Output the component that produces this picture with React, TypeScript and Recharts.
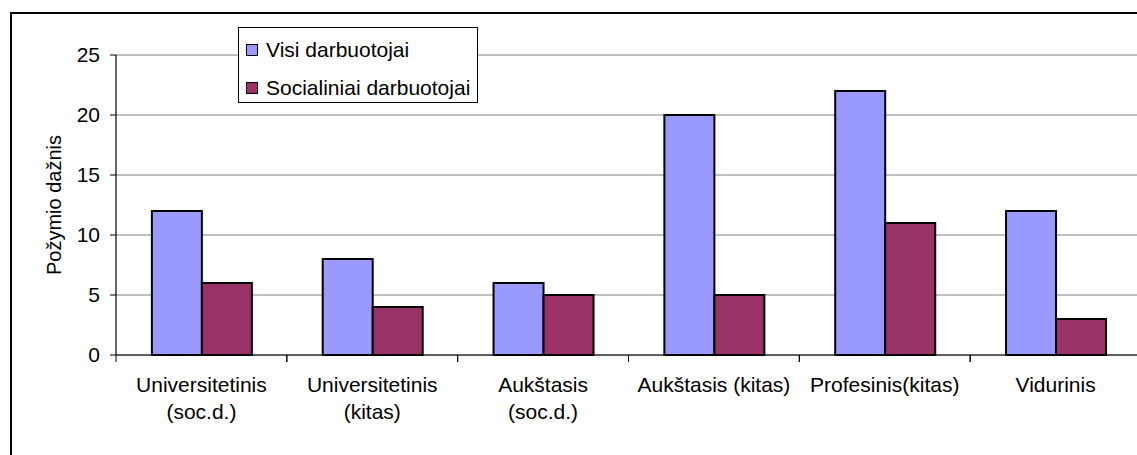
import React from "react";
import { BarChart, Bar, XAxis, YAxis, CartesianGrid } from "recharts";

const categories = [
  "Universitetinis\n(soc.d.)",
  "Universitetinis\n(kitas)",
  "Aukštasis\n(soc.d.)",
  "Aukštasis (kitas)",
  "Profesinis(kitas)",
  "Vidurinis",
];
const visi = [12, 8, 6, 20, 22, 12];
const socialiniai = [6, 4, 5, 5, 11, 3];
const yTicks = [0, 5, 10, 15, 20, 25];
const seriesNames = ["Visi darbuotojai", "Socialiniai darbuotojai"];
const colors = ["#9999FF", "#993366"];

const data = categories.map((name, i) => ({
  name,
  visi: visi[i],
  soc: socialiniai[i],
}));

const font = "'Liberation Sans', Arial, sans-serif";

function CategoryTick(props: any) {
  const { x, y, payload, width, visibleTicksCount } = props;
  const half = width / visibleTicksCount / 2;
  const lines = String(payload.value).split("\n");
  return (
    <g>
      <line x1={x - half} x2={x - half} y1={y} y2={y + 7} stroke="#000" strokeWidth={1} />
      <line x1={x + half} x2={x + half} y1={y} y2={y + 7} stroke="#000" strokeWidth={1} />
      {lines.map((l, i) => (
        <text
          key={i}
          x={x}
          y={y + 37 + i * 27}
          textAnchor="middle"
          fontSize={21}
          fontFamily={font}
          fill="#000"
        >
          {l}
        </text>
      ))}
    </g>
  );
}

function LegendBox() {
  return (
    <div
      style={{
        position: "absolute",
        left: 238,
        top: 27,
        width: 240,
        height: 76,
        boxSizing: "border-box",
        border: "1px solid #000",
        background: "#fff",
        fontFamily: font,
        fontSize: 21,
        color: "#000",
        paddingTop: 4,
      }}
    >
      {seriesNames.map((n, i) => (
        <div key={n} style={{ display: "flex", alignItems: "center", height: 32, marginTop: i === 0 ? 2 : 6 }}>
          <span
            style={{
              display: "inline-block",
              width: 10,
              height: 10,
              background: colors[i],
              border: "1.5px solid #000",
              marginLeft: 7,
              marginRight: 8,
            }}
          />
          <span>{n}</span>
        </div>
      ))}
    </div>
  );
}

export default function App() {
  return (
    <div
      style={{
        position: "absolute",
        left: 0,
        top: 0,
        width: 1137,
        height: 455,
        overflow: "hidden",
        background: "#fff",
      }}
    >
      <div style={{ position: "absolute", left: 0, top: 0 }}>
        <BarChart
          width={1160}
          height={455}
          data={data}
          margin={{ top: 55, right: 19, left: 56, bottom: 0 }}
          barCategoryGap="21%"
          barGap={0}
        >
          <CartesianGrid vertical={false} stroke="#808080" strokeWidth={1} />
          <XAxis
            dataKey="name"
            tick={<CategoryTick />}
            tickLine={false}
            tickSize={0}
            tickMargin={0}
            interval={0}
            axisLine={{ stroke: "#000", strokeWidth: 1.2 }}
            height={100}
          />
          <YAxis
            width={60}
            domain={[0, 25]}
            ticks={yTicks}
            interval={0}
            tickSize={6}
            tickMargin={10}
            tickLine={{ stroke: "#000" }}
            axisLine={{ stroke: "#000", strokeWidth: 1.2 }}
            tick={{ fontSize: 21, fontFamily: font, fill: "#000" }}
            label={{
              value: "Požymio dažnis",
              angle: -90,
              position: "insideLeft",
              dx: -7,
              style: { fontSize: 20, fontFamily: font, fill: "#000", textAnchor: "middle" },
            }}
          />
          <Bar dataKey="visi" name={seriesNames[0]} fill={colors[0]} stroke="#000" strokeWidth={2} isAnimationActive={false} />
          <Bar dataKey="soc" name={seriesNames[1]} fill={colors[1]} stroke="#000" strokeWidth={2} isAnimationActive={false} />
        </BarChart>
      </div>
      <LegendBox />
      <div style={{ position: "absolute", left: 10, top: 12, width: 1127, height: 2, background: "#000" }} />
      <div style={{ position: "absolute", left: 10, top: 12, width: 2, height: 443, background: "#000" }} />
    </div>
  );
}
